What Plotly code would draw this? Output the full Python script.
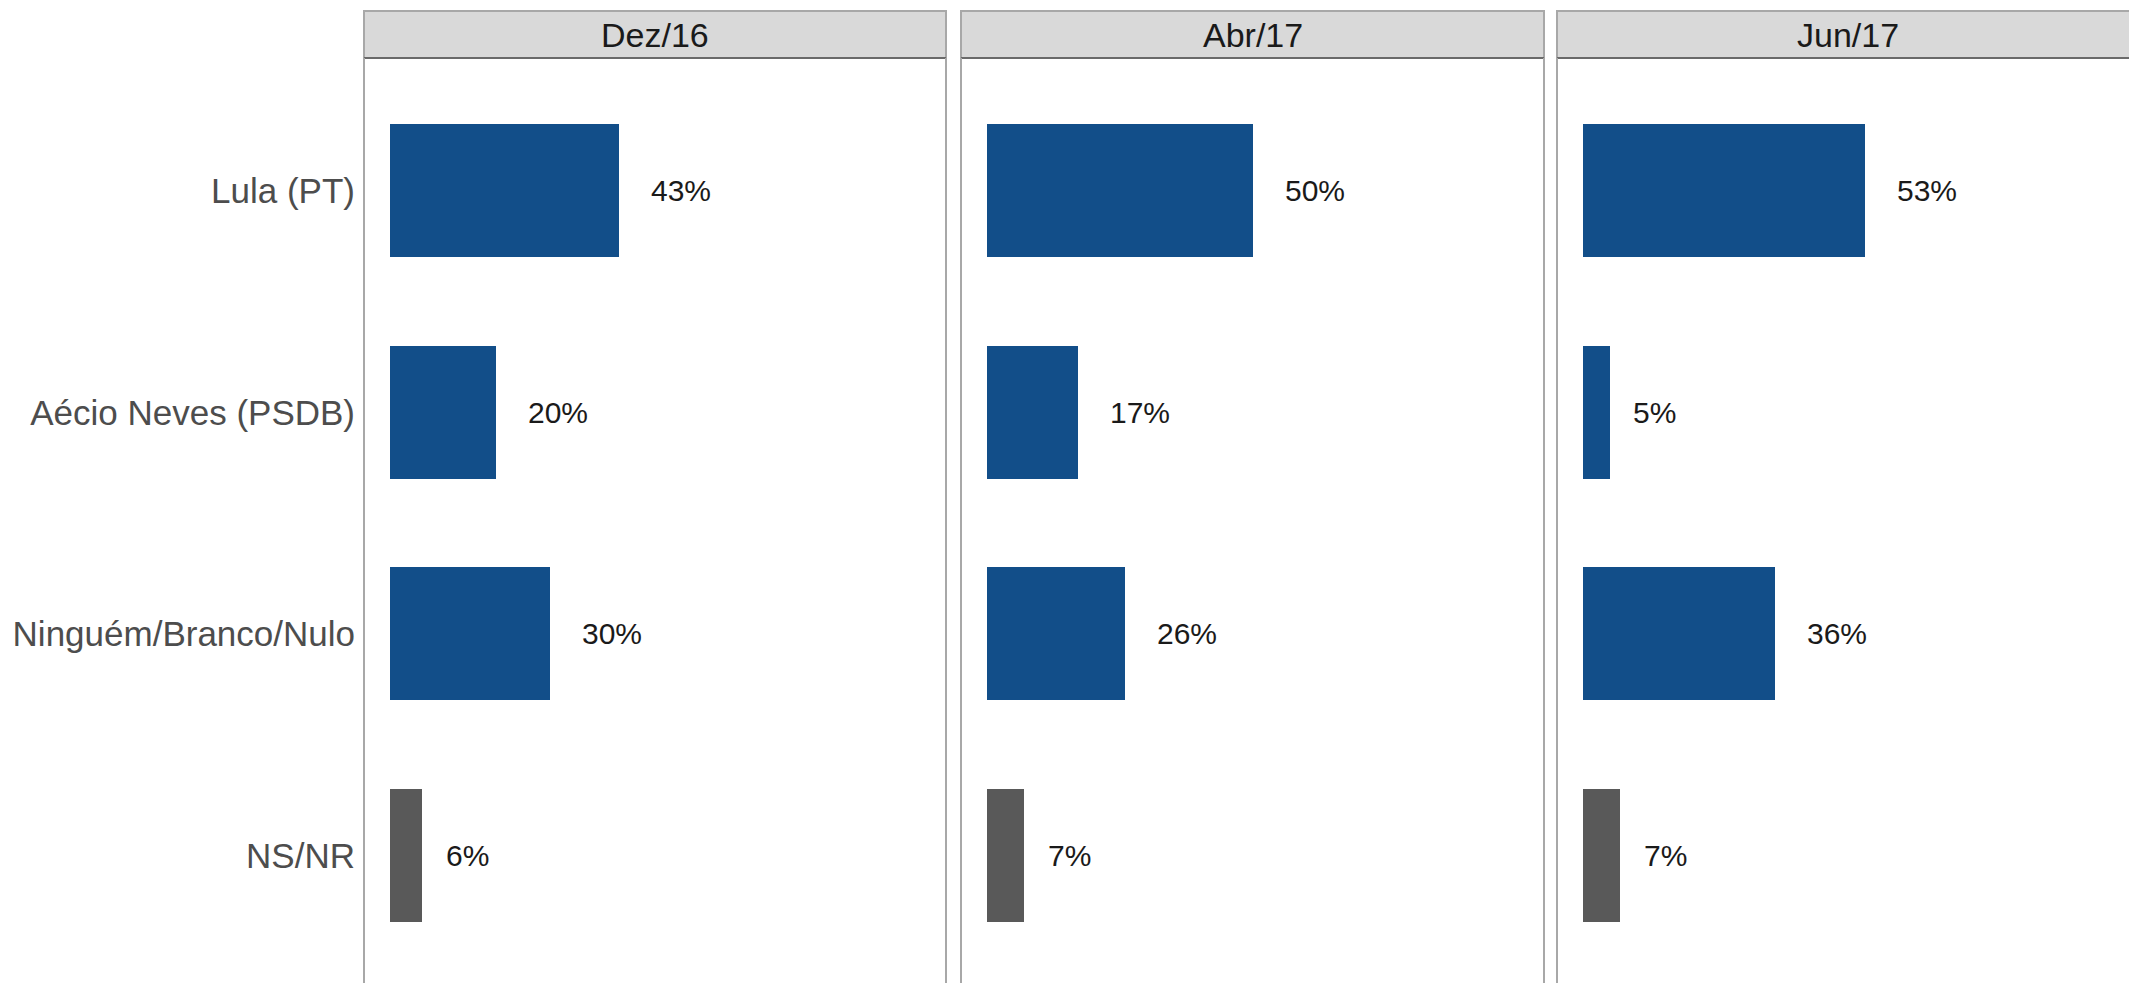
import plotly.graph_objects as go

# ---------------- data ----------------
categories = ["Lula (PT)", "Aécio Neves (PSDB)", "Ninguém/Branco/Nulo", "NS/NR"]
periods = ["Dez/16", "Abr/17", "Jun/17"]
dez16 = [43, 20, 30, 6]
abr17 = [50, 17, 26, 7]
jun17 = [53, 5, 36, 7]
series = [dez16, abr17, jun17]

# ---------------- style ----------------
BLUE = "#124e89"
GREY = "#595959"
bar_colors = [BLUE, BLUE, BLUE, GREY]
FONT = "Liberation Sans, Arial, sans-serif"
W, H = 2129, 983
ML, MT = 364, 11
PW, PH = W - ML, H - MT

# panel pixel extents (x) and plot top
panels_px = [(364, 946), (961, 1544), (1557, 2139)]
panel_top_px = 58
px_per_unit = 5.32
x0_unit = -4.9
cat_px = 221.5

def xd(px):
    return (px - ML) / PW

def yd(py):
    return (H - py) / PH

y_top_dom = yd(panel_top_px)
y_range = [-0.6 + (H - panel_top_px) / cat_px, -0.6]

fig = go.Figure()
shapes = []
annotations = []
for i, (period, vals) in enumerate(zip(periods, series)):
    n = "" if i == 0 else str(i + 1)
    xa, ya = "x" + n, "y" + n
    fig.add_trace(go.Bar(
        x=vals, y=categories, orientation="h",
        marker=dict(color=bar_colors, line=dict(width=0)),
        width=0.6, xaxis=xa, yaxis=ya, hoverinfo="x+y",
    ))
    left, right = panels_px[i]
    vis_right = min(right, W)
    dom = [xd(left), xd(vis_right)]
    xr = [x0_unit, x0_unit + (vis_right - left) / px_per_unit]
    fig.update_layout({
        "xaxis" + n: dict(domain=dom, range=xr, showticklabels=False, showgrid=False,
                          zeroline=False, showline=False, ticks="", anchor=ya, fixedrange=True),
        "yaxis" + n: dict(domain=[0, y_top_dom], range=y_range, type="category",
                          categoryorder="array", categoryarray=categories,
                          showticklabels=(i == 0), showgrid=False, zeroline=False,
                          showline=False, ticks="", ticklabelstandoff=8,
                          tickfont=dict(family=FONT, size=35, color="#4d4d4d"),
                          anchor=xa, fixedrange=True),
    })
    # value labels
    for c, v in zip(categories, vals):
        label = f"{v}%"
        ndig = len(str(v))
        est_w = (0.556 * ndig + 0.889) * 30
        annotations.append(dict(
            x=v, y=c, xref=xa, yref=ya, text=label, showarrow=False,
            xanchor="left", yanchor="middle", xshift=est_w / 2,
            font=dict(family=FONT, size=30, color="#1a1a1a"),
        ))
    # strip
    shapes.append(dict(type="rect", xref="paper", yref="paper",
                       x0=xd(left), x1=xd(right), y0=y_top_dom, y1=1,
                       fillcolor="#d9d9d9", line=dict(color="#a8a8a8", width=2), layer="below"))
    shapes.append(dict(type="line", xref="paper", yref="paper",
                       x0=xd(left), x1=xd(right), y0=y_top_dom, y1=y_top_dom,
                       line=dict(color="#6a6a6a", width=2)))
    # panel borders
    for bx in (left, right):
        if bx <= W:
            shapes.append(dict(type="line", xref="paper", yref="paper",
                               x0=xd(bx), x1=xd(bx), y0=0, y1=y_top_dom,
                               line=dict(color="#a8a8a8", width=2)))
    annotations.append(dict(
        x=xd((left + right) / 2), y=(y_top_dom + 1) / 2, xref="paper", yref="paper",
        text=period, showarrow=False, xanchor="center", yanchor="middle",
        font=dict(family=FONT, size=34, color="#1a1a1a"),
    ))

fig.update_layout(
    width=W, height=H,
    margin=dict(l=ML, r=0, t=MT, b=0, pad=0),
    paper_bgcolor="white", plot_bgcolor="white",
    showlegend=False, bargap=0,
    shapes=shapes, annotations=annotations,
)

fig.write_html(
    "out.html",
    config={"displayModeBar": False},
    post_script="document.body.style.margin='0';document.body.style.overflow='hidden';",
)
